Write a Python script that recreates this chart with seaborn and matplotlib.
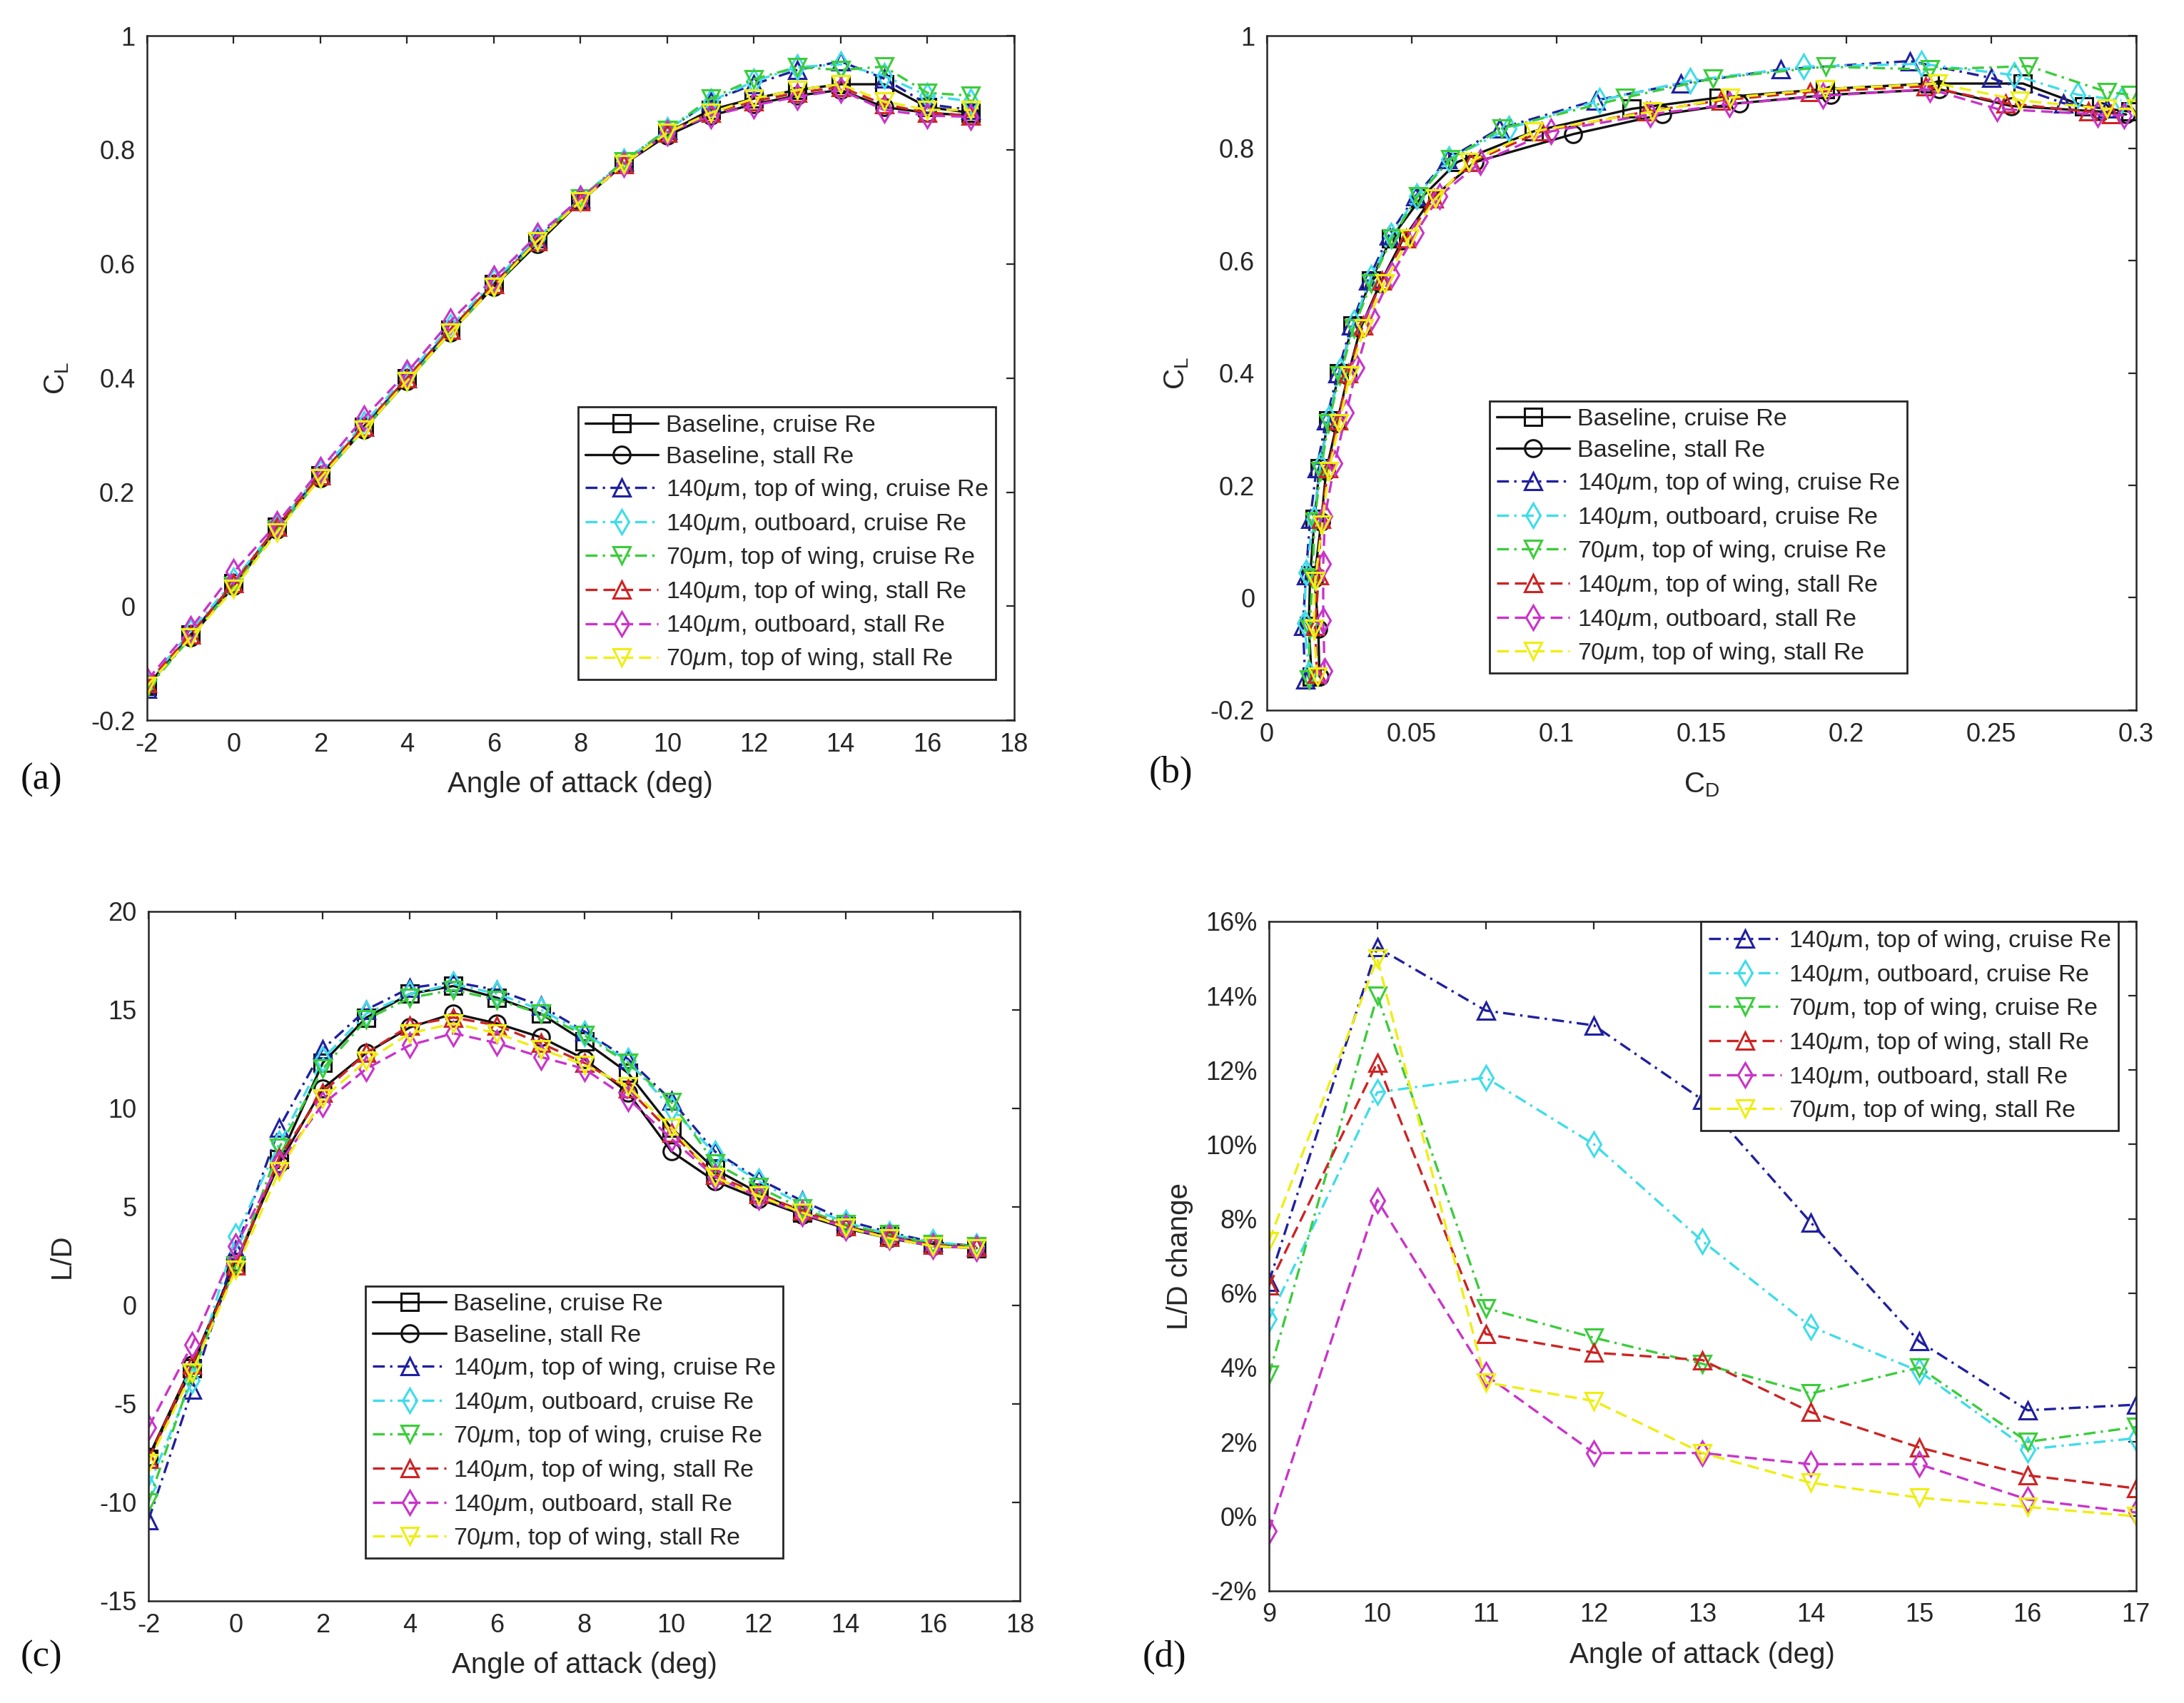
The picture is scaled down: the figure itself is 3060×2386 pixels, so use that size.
import matplotlib
matplotlib.use('Agg')
from matplotlib import pyplot as plt
from matplotlib.ticker import FuncFormatter
import seaborn as sns
import numpy as np

# angle of attack for panels a-c, and d
alpha = list(range(-2, 18))
alpha_d = list(range(9, 18))

labels = ['Baseline, cruise Re', 'Baseline, stall Re',
          r'140$\mu$m, top of wing, cruise Re', r'140$\mu$m, outboard, cruise Re',
          r'70$\mu$m, top of wing, cruise Re', r'140$\mu$m, top of wing, stall Re',
          r'140$\mu$m, outboard, stall Re', r'70$\mu$m, top of wing, stall Re']

# lift coefficient
cl_base_cruise = [-0.14, -0.05, 0.04, 0.14, 0.23, 0.315, 0.40, 0.485, 0.565, 0.64, 0.71, 0.775, 0.83, 0.87, 0.89, 0.905, 0.915, 0.915, 0.875, 0.865]
cl_base_stall = [-0.14, -0.055, 0.035, 0.135, 0.225, 0.31, 0.395, 0.48, 0.56, 0.635, 0.71, 0.775, 0.825, 0.86, 0.88, 0.895, 0.905, 0.875, 0.865, 0.86]
cl_140_top_cruise = [-0.145, -0.05, 0.04, 0.14, 0.23, 0.315, 0.40, 0.485, 0.565, 0.645, 0.715, 0.78, 0.835, 0.885, 0.915, 0.94, 0.955, 0.925, 0.88, 0.87]
cl_140_out_cruise = [-0.135, -0.045, 0.045, 0.14, 0.235, 0.32, 0.405, 0.49, 0.57, 0.645, 0.715, 0.78, 0.835, 0.885, 0.92, 0.945, 0.95, 0.93, 0.895, 0.885]
cl_70_top_cruise = [-0.145, -0.055, 0.035, 0.135, 0.225, 0.31, 0.395, 0.48, 0.56, 0.64, 0.715, 0.78, 0.835, 0.89, 0.924, 0.945, 0.94, 0.946, 0.90, 0.895]
cl_140_top_stall = [-0.135, -0.05, 0.04, 0.14, 0.23, 0.315, 0.40, 0.485, 0.565, 0.64, 0.71, 0.775, 0.83, 0.865, 0.885, 0.90, 0.91, 0.88, 0.865, 0.86]
cl_140_out_stall = [-0.13, -0.04, 0.06, 0.145, 0.24, 0.33, 0.41, 0.50, 0.575, 0.65, 0.715, 0.775, 0.83, 0.86, 0.878, 0.893, 0.905, 0.87, 0.86, 0.858]
cl_70_top_stall = [-0.14, -0.055, 0.03, 0.13, 0.225, 0.31, 0.395, 0.48, 0.56, 0.64, 0.71, 0.775, 0.83, 0.865, 0.89, 0.905, 0.915, 0.885, 0.87, 0.87]

# drag coefficient
cd_base_cruise = [0.0155, 0.0145, 0.0150, 0.0165, 0.0182, 0.0212, 0.0250, 0.0297, 0.0360, 0.0430, 0.053, 0.0657, 0.0922, 0.126, 0.156, 0.1926, 0.229, 0.261, 0.282, 0.298]
cd_base_stall = [0.0182, 0.0178, 0.0165, 0.0188, 0.0205, 0.0242, 0.028, 0.0324, 0.0392, 0.0467, 0.0568, 0.0718, 0.1058, 0.1365, 0.163, 0.1946, 0.232, 0.257, 0.288, 0.2966]
cd_140_top_cruise = [0.0133, 0.0125, 0.0135, 0.0150, 0.0172, 0.0205, 0.0245, 0.0292, 0.0350, 0.0422, 0.0514, 0.0624, 0.0803, 0.1135, 0.143, 0.1774, 0.222, 0.25, 0.275, 0.29]
cd_140_out_cruise = [0.0147, 0.0130, 0.0135, 0.0162, 0.0185, 0.0214, 0.0254, 0.0300, 0.0360, 0.043, 0.0518, 0.0629, 0.0835, 0.1149, 0.146, 0.1853, 0.226, 0.258, 0.28, 0.295]
cd_70_top_cruise = [0.0145, 0.0148, 0.0158, 0.0165, 0.0186, 0.0213, 0.0252, 0.030, 0.0361, 0.0432, 0.0522, 0.0634, 0.0811, 0.1236, 0.154, 0.1929, 0.229, 0.263, 0.29, 0.298]
cd_140_top_stall = [0.0173, 0.0167, 0.0180, 0.0187, 0.0213, 0.0246, 0.0282, 0.0332, 0.0398, 0.0481, 0.0577, 0.0705, 0.0949, 0.131, 0.1566, 0.1875, 0.2275, 0.255, 0.2836, 0.2915]
cd_140_out_stall = [0.0200, 0.0195, 0.0195, 0.0201, 0.0235, 0.0275, 0.0311, 0.0362, 0.0432, 0.0516, 0.0596, 0.0738, 0.0982, 0.1323, 0.1596, 0.192, 0.229, 0.252, 0.2867, 0.2959]
cd_70_top_stall = [0.0175, 0.0162, 0.0167, 0.0191, 0.0214, 0.025, 0.0286, 0.0336, 0.0406, 0.0492, 0.0582, 0.0698, 0.0922, 0.133, 0.160, 0.1926, 0.2316, 0.26, 0.29, 0.30]

# lift to drag ratio
ld_base_cruise = [-7.8, -3.2, 2.0, 7.4, 12.3, 14.6, 15.8, 16.2, 15.6, 14.8, 13.4, 11.8, 9.0, 6.9, 5.7, 4.7, 4.0, 3.5, 3.1, 2.9]
ld_base_stall = [-7.7, -3.0, 2.2, 7.2, 11.0, 12.8, 14.1, 14.8, 14.3, 13.6, 12.5, 10.8, 7.8, 6.3, 5.4, 4.6, 3.9, 3.4, 3.0, 2.9]
ld_140_top_cruise = [-10.9, -4.3, 2.8, 9.0, 13.0, 15.0, 16.1, 16.4, 16.0, 15.2, 13.9, 12.5, 10.4, 7.8, 6.4, 5.3, 4.3, 3.7, 3.2, 3.0]
ld_140_out_cruise = [-9.2, -3.8, 3.5, 8.2, 12.5, 14.8, 15.8, 16.3, 15.8, 15.0, 13.8, 12.4, 10.0, 7.7, 6.3, 5.1, 4.2, 3.6, 3.2, 3.0]
ld_70_top_cruise = [-10.0, -3.5, 2.0, 8.0, 12.0, 14.5, 15.6, 16.0, 15.5, 14.8, 13.7, 12.3, 10.3, 7.2, 6.0, 4.9, 4.1, 3.6, 3.1, 3.0]
ld_140_top_stall = [-7.8, -3.0, 2.0, 7.5, 10.8, 12.8, 14.2, 14.6, 14.2, 13.3, 12.3, 11.0, 8.75, 6.6, 5.65, 4.8, 4.0, 3.45, 3.05, 2.95]
ld_140_out_stall = [-6.2, -2.0, 3.0, 7.2, 10.2, 12.0, 13.2, 13.8, 13.3, 12.6, 12.0, 10.5, 8.45, 6.5, 5.5, 4.65, 3.95, 3.45, 3.0, 2.9]
ld_70_top_stall = [-8.0, -3.4, 1.8, 6.8, 10.5, 12.4, 13.8, 14.3, 13.8, 13.0, 12.2, 11.1, 9.0, 6.5, 5.55, 4.7, 3.95, 3.4, 3.0, 2.9]

# L/D change (%) vs baseline, alpha 9..17
chg_140_top_cruise = [6.3, 15.3, 13.6, 13.2, 11.2, 7.9, 4.7, 2.85, 3.0]
chg_140_out_cruise = [5.3, 11.4, 11.8, 10.0, 7.4, 5.1, 3.9, 1.8, 2.1]
chg_70_top_cruise = [3.8, 14.0, 5.6, 4.8, 4.1, 3.3, 4.0, 2.0, 2.4]
chg_140_top_stall = [6.2, 12.2, 4.9, 4.4, 4.2, 2.8, 1.85, 1.1, 0.75]
chg_140_out_stall = [-0.4, 8.5, 3.8, 1.7, 1.7, 1.4, 1.4, 0.45, 0.1]
chg_70_top_stall = [7.4, 15.0, 3.6, 3.1, 1.7, 0.9, 0.5, 0.25, 0.0]

cl_all = [cl_base_cruise, cl_base_stall, cl_140_top_cruise, cl_140_out_cruise,
          cl_70_top_cruise, cl_140_top_stall, cl_140_out_stall, cl_70_top_stall]
cd_all = [cd_base_cruise, cd_base_stall, cd_140_top_cruise, cd_140_out_cruise,
          cd_70_top_cruise, cd_140_top_stall, cd_140_out_stall, cd_70_top_stall]
ld_all = [ld_base_cruise, ld_base_stall, ld_140_top_cruise, ld_140_out_cruise,
          ld_70_top_cruise, ld_140_top_stall, ld_140_out_stall, ld_70_top_stall]
chg_all = [chg_140_top_cruise, chg_140_out_cruise, chg_70_top_cruise,
           chg_140_top_stall, chg_140_out_stall, chg_70_top_stall]

colors = ['#111111', '#111111', '#20209f', '#40dcea', '#3ccc3c', '#cc2424', '#c934c9', '#eeee14']
markers = ['s', 'o', '^', 'd', 'v', '^', 'd', 'v']
dashes = [None, None, (5, 2.2, 1, 2.2), (5, 2.2, 1, 2.2), (5, 2.2, 1, 2.2),
          (5, 2.5), (5, 2.5), (5, 2.5)]

sns.set_theme(style='white')
plt.rcParams['font.family'] = ['Liberation Sans', 'DejaVu Sans']
plt.rcParams['mathtext.fontset'] = 'custom'
plt.rcParams['mathtext.rm'] = 'Liberation Sans'
plt.rcParams['mathtext.it'] = 'Liberation Sans:italic'
plt.rcParams['axes.unicode_minus'] = False

fig = plt.figure(figsize=(15.3, 11.93), dpi=200)
ax_a = fig.add_axes([0.0673, 0.577, 0.397, 0.402])
ax_b = fig.add_axes([0.580, 0.583, 0.398, 0.396])
ax_c = fig.add_axes([0.068, 0.060, 0.399, 0.405])
ax_d = fig.add_axes([0.581, 0.066, 0.397, 0.393])


def trazar(ax, xs, ys, idx):
    sns.lineplot(x=xs, y=ys, ax=ax, color=colors[idx], marker=markers[idx],
                 lw=1.2, markersize=8.5,
                 markerfacecolor='none', markeredgecolor=colors[idx],
                 markeredgewidth=1.1, estimator=None, sort=False, legend=False)
    linea = ax.get_lines()[-1]
    if dashes[idx] is not None:
        linea.set_dashes(dashes[idx])


def estilo(ax):
    for s in ax.spines.values():
        s.set_color('#262626')
        s.set_linewidth(0.9)
    ax.tick_params(direction='in', length=4, width=0.8, colors='#262626',
                   labelsize=13, top=True, right=True, labelcolor='#262626', pad=6)
    ax.xaxis.set_major_formatter(FuncFormatter(lambda v, p: f'{v:g}'))


def leyenda(ax, loc, anchor, idxs):
    ax.legend(handles=ax.get_lines(), labels=[labels[i] for i in idxs], loc=loc,
              bbox_to_anchor=anchor, fontsize=12.3, frameon=True, fancybox=False,
              edgecolor='#262626', framealpha=1, handlelength=3.0, handletextpad=0.3,
              labelspacing=0.38, borderpad=0.3, borderaxespad=0)


# (a) CL vs alpha
for i in range(8):
    trazar(ax_a, alpha, cl_all[i], i)
ax_a.set_xlim(-2, 18)
ax_a.set_ylim(-0.2, 1)
ax_a.set_xticks(np.arange(-2, 19, 2))
ax_a.set_yticks(np.arange(-0.2, 1.01, 0.2))
estilo(ax_a)
ax_a.yaxis.set_major_formatter(FuncFormatter(lambda v, p: f'{round(v, 1):g}'))
ax_a.set_xlabel('Angle of attack (deg)', fontsize=14.5, labelpad=7)
ax_a.set_ylabel(r'C$_\mathregular{L}$', fontsize=14.5, labelpad=10)
leyenda(ax_a, 'lower left', (0.497, 0.06), range(8))

# (b) CL vs CD
for i in range(8):
    trazar(ax_b, cd_all[i], cl_all[i], i)
ax_b.set_xlim(0, 0.3)
ax_b.set_ylim(-0.2, 1)
ax_b.set_xticks(np.arange(0, 0.301, 0.05))
ax_b.set_yticks(np.arange(-0.2, 1.01, 0.2))
estilo(ax_b)
ax_b.xaxis.set_major_formatter(FuncFormatter(lambda v, p: f'{round(v, 2):g}'))
ax_b.yaxis.set_major_formatter(FuncFormatter(lambda v, p: f'{round(v, 1):g}'))
ax_b.set_xlabel(r'C$_\mathregular{D}$', fontsize=14.5, labelpad=12)
ax_b.set_ylabel(r'C$_\mathregular{L}$', fontsize=14.5, labelpad=10)
leyenda(ax_b, 'lower left', (0.256, 0.055), range(8))

# (c) L/D vs alpha
for i in range(8):
    trazar(ax_c, alpha, ld_all[i], i)
ax_c.set_xlim(-2, 18)
ax_c.set_ylim(-15, 20)
ax_c.set_xticks(np.arange(-2, 19, 2))
ax_c.set_yticks(np.arange(-15, 21, 5))
estilo(ax_c)
ax_c.yaxis.set_major_formatter(FuncFormatter(lambda v, p: f'{v:g}'))
ax_c.set_xlabel('Angle of attack (deg)', fontsize=14.5, labelpad=7)
ax_c.set_ylabel('L/D', fontsize=14.5, labelpad=12)
leyenda(ax_c, 'lower left', (0.249, 0.062), range(8))

# (d) L/D change
for j in range(6):
    trazar(ax_d, alpha_d, chg_all[j], j + 2)
ax_d.set_xlim(9, 17)
ax_d.set_ylim(-2, 16)
ax_d.set_xticks(np.arange(9, 18, 1))
ax_d.set_yticks(np.arange(-2, 17, 2))
estilo(ax_d)
ax_d.yaxis.set_major_formatter(FuncFormatter(lambda v, p: f'{v:.0f}%'))
ax_d.set_xlabel('Angle of attack (deg)', fontsize=14.5, labelpad=7)
ax_d.set_ylabel('L/D change', fontsize=14.5, labelpad=6)
leyenda(ax_d, 'upper right', (0.98, 1.0), range(2, 8))

for txt, x, y in [('(a)', 0.019, 0.542), ('(b)', 0.536, 0.546), ('(c)', 0.019, 0.027), ('(d)', 0.533, 0.027)]:
    fig.text(x, y, txt, fontsize=19, family='Liberation Serif', ha='center', va='center', color='#111111')

fig.savefig('out.png', dpi=200, facecolor='white')
